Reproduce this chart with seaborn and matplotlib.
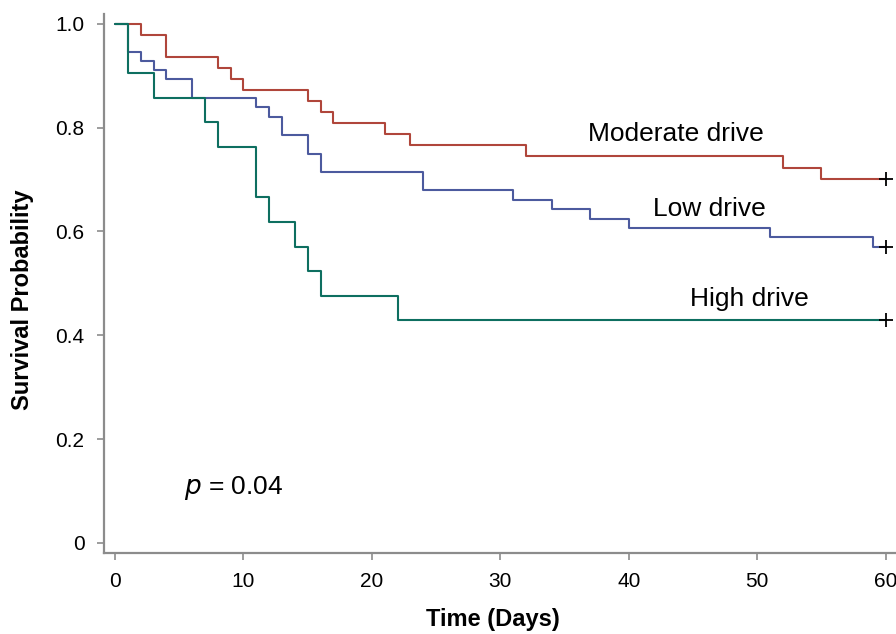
import numpy as np
import pandas as pd
import seaborn as sns
import matplotlib.pyplot as plt

# Kaplan-Meier steps (time in days, survival prob)
mod_time = [0, 2, 4, 8, 9, 10, 15, 16, 17, 21, 23, 32, 52, 55, 60]
mod_surv = [1.0, 0.979, 0.936, 0.915, 0.894, 0.872, 0.851, 0.830, 0.809,
            0.787, 0.766, 0.745, 0.723, 0.702, 0.702]

low_time = [0, 1, 2, 3, 4, 6, 11, 12, 13, 15, 16, 24, 31, 34, 37, 40, 51, 59, 60]
low_surv = [1.0, 0.946, 0.929, 0.911, 0.893, 0.857, 0.839, 0.821, 0.786,
            0.750, 0.714, 0.679, 0.661, 0.643, 0.625, 0.607, 0.589, 0.571, 0.571]

high_time = [0, 1, 3, 7, 8, 11, 12, 14, 15, 16, 22, 60]
high_surv = [1.0, 0.905, 0.857, 0.810, 0.762, 0.667, 0.619, 0.571, 0.524,
             0.476, 0.429, 0.429]

groups = ['Moderate drive', 'Low drive', 'High drive']
colors = ['#B0463B', '#4C5A9E', '#0E6F60']

df = pd.concat([
    pd.DataFrame({'time': mod_time, 'surv': mod_surv, 'group': groups[0]}),
    pd.DataFrame({'time': low_time, 'surv': low_surv, 'group': groups[1]}),
    pd.DataFrame({'time': high_time, 'surv': high_surv, 'group': groups[2]}),
])
# censored at end of follow-up
cens = df.groupby('group', sort=False).tail(1)

sns.set_style("ticks")
plt.rcParams['font.family'] = ['Liberation Sans', 'DejaVu Sans']
plt.rcParams['text.color'] = 'black'
plt.rcParams['axes.labelcolor'] = 'black'

fig = plt.figure(figsize=(8.96, 6.34), dpi=100)
ax = fig.add_axes([0.116, 0.128, 0.884, 0.85])

sns.lineplot(data=df, x='time', y='surv', hue='group', hue_order=groups,
             palette=colors, drawstyle='steps-post', estimator=None,
             legend=False, linewidth=1.5, ax=ax)
sns.scatterplot(data=cens, x='time', y='surv', marker='+', color='black',
                s=90, linewidth=1.3, legend=False, ax=ax, zorder=5)

ax.set_xlim(-0.86, 60.8)
ax.set_ylim(-0.019, 1.019)
ax.set_xticks([0, 10, 20, 30, 40, 50, 60])
ax.set_yticks([0, 0.2, 0.4, 0.6, 0.8, 1.0])
ax.set_yticklabels(['0', '0.2', '0.4', '0.6', '0.8', '1.0'])

sns.despine(ax=ax)
for s in ['left', 'bottom']:
    ax.spines[s].set_color('#8c8c8c')
    ax.spines[s].set_linewidth(1.6)
ax.tick_params(colors='#8c8c8c', labelcolor='black', labelsize=15,
               length=5, width=1.2, pad=9)

ax.set_xlabel('Time (Days)', fontsize=17, fontweight='bold')
ax.set_ylabel('Survival Probability', fontsize=17, fontweight='bold')
ax.xaxis.set_label_coords(0.491, -0.103)
ax.yaxis.set_label_coords(-0.088, 0.469)

ax.text(43.7, 0.788, 'Moderate drive', fontsize=19, ha='center', va='center')
ax.text(46.3, 0.644, 'Low drive', fontsize=19, ha='center', va='center')
ax.text(49.4, 0.470, 'High drive', fontsize=19, ha='center', va='center')
ax.text(5.4, 0.106, '$p$ = 0.04', fontsize=19, ha='left', va='center')

plt.savefig('out.png', dpi=100)
